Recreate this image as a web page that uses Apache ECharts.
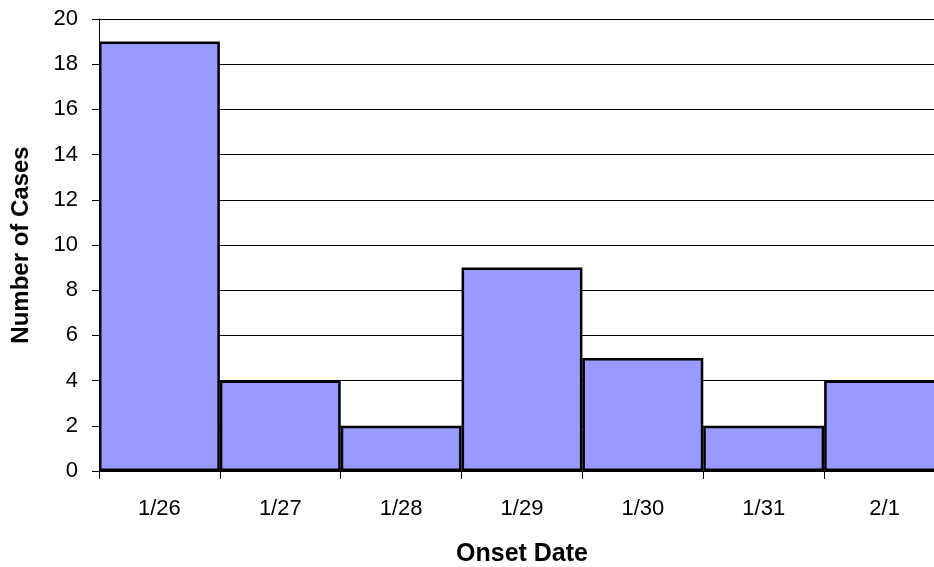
<!DOCTYPE html>
<html>
<head>
<meta charset="utf-8">
<script src="https://cdn.jsdelivr.net/npm/echarts@6/dist/echarts.min.js"></script>
<style>
html,body{margin:0;padding:0;background:#fff;overflow:hidden;width:934px;height:567px;}
#chart{width:934px;height:567px;}
</style>
</head>
<body>
<div id="chart"></div>
<script>
const categories = ['1/26', '1/27', '1/28', '1/29', '1/30', '1/31', '2/1'];
const cases = [19, 4, 2, 9, 5, 2, 4];
const yTitle = 'Number of Cases';
const xTitle = 'Onset Date';

const chart = echarts.init(document.getElementById('chart'), null, {renderer: 'canvas'});
const font = '"Liberation Sans", Arial, sans-serif';
chart.setOption({
  animation: false,
  backgroundColor: '#ffffff',
  grid: {left: 99, top: 19, width: 846, height: 452, containLabel: false, outerBoundsMode: 'none'},
  xAxis: {
    type: 'category',
    data: categories,
    boundaryGap: true,
    name: xTitle,
    nameLocation: 'middle',
    nameGap: 71,
    nameTextStyle: {fontFamily: font, fontSize: 25, fontWeight: 'bold', color: '#000', verticalAlign: 'top'},
    axisLine: {show: true, lineStyle: {color: '#000', width: 1}},
    axisTick: {show: true, alignWithLabel: false, length: 8, lineStyle: {color: '#000'}},
    axisLabel: {fontFamily: font, fontSize: 22, color: '#000', margin: 27},
    splitLine: {show: false}
  },
  yAxis: {
    type: 'value',
    min: 0,
    max: 20,
    interval: 2,
    name: yTitle,
    nameLocation: 'middle',
    nameGap: 66,
    nameTextStyle: {fontFamily: font, fontSize: 24, fontWeight: 'bold', color: '#000'},
    axisLine: {show: true, lineStyle: {color: '#000', width: 1}},
    axisTick: {show: true, length: 7, lineStyle: {color: '#000'}},
    axisLabel: {fontFamily: font, fontSize: 22, color: '#000', margin: 21},
    splitLine: {show: true, lineStyle: {color: '#000', width: 1}}
  },
  series: [{
    type: 'bar',
    data: cases,
    barCategoryGap: '0%',
    itemStyle: {color: '#9999FF', borderColor: '#000', borderWidth: 2.5},
    emphasis: {disabled: true}
  }]
});
</script>
</body>
</html>
